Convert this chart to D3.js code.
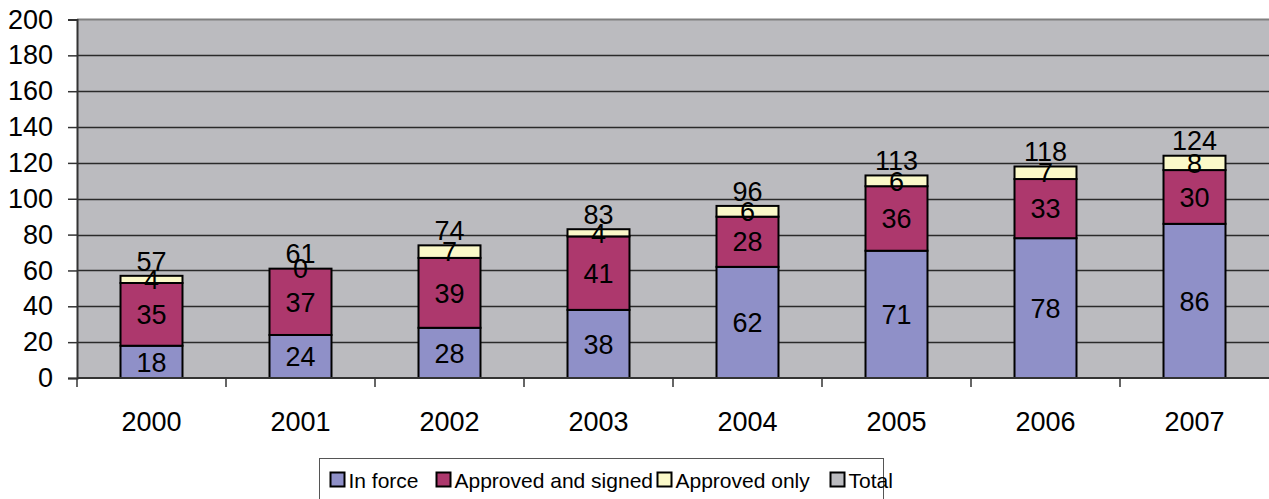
<!DOCTYPE html>
<html lang="en">
<head>
    <meta charset="UTF-8">
    <title>Agreements by year</title>
    <script src="https://cdn.jsdelivr.net/npm/d3@7"></script>
    <style>
        html, body {
            margin: 0;
            padding: 0;
            width: 100%;
            height: 100%;
            overflow: hidden;
            background: #fff;
        }
        text {
            font-family: Arial, 'Liberation Sans', sans-serif;
            fill: #000;
        }
        .grid line {
            stroke: #2a2a2a;
            stroke-width: 1.5px;
        }
        .seg {
            stroke: #000;
            stroke-width: 2px;
        }
    </style>
</head>
<body>
</body>
<script>
    const years = ['2000', '2001', '2002', '2003', '2004', '2005', '2006', '2007'];
    const inForce = [18, 24, 28, 38, 62, 71, 78, 86];
    const approvedSigned = [35, 37, 39, 41, 28, 36, 33, 30];
    const approvedOnly = [4, 0, 7, 4, 6, 6, 7, 8];
    const totals = [57, 61, 74, 83, 96, 113, 118, 124];
    const yTicks = [0, 20, 40, 60, 80, 100, 120, 140, 160, 180, 200];

    const seriesNames = ['In force', 'Approved and signed', 'Approved only', 'Total'];
    const colors = ['#8f90c8', '#ad386d', '#fbf9c9', '#bbbbbf'];

    const width = 1269, height = 499;
    const plotLeft = 77, plotRight = 1269, plotTop = 19.5, plotBottom = 378;
    const fontSize = '27px';

    const svg = d3.select('body').append('svg')
        .attr('width', width)
        .attr('height', height);

    const x = d3.scaleBand()
        .domain(years)
        .range([plotLeft, plotRight])
        .paddingInner(0.584)
        .paddingOuter(0.292);

    const y = d3.scaleLinear()
        .domain([0, 200])
        .range([plotBottom, plotTop]);

    // plot background
    svg.append('rect')
        .attr('x', plotLeft)
        .attr('y', plotTop)
        .attr('width', plotRight - plotLeft)
        .attr('height', plotBottom - plotTop)
        .attr('fill', colors[3]);

    // gridlines
    svg.append('g')
        .classed('grid', true)
        .selectAll('line')
        .data(yTicks.filter(t => t > 0 && t < 200)).enter()
        .append('line')
        .attr('x1', plotLeft)
        .attr('x2', plotRight)
        .attr('y1', d => Math.round(y(d)) + 0.5)
        .attr('y2', d => Math.round(y(d)) + 0.5);

    svg.append('line')
        .attr('x1', plotLeft).attr('x2', plotRight)
        .attr('y1', plotTop).attr('y2', plotTop)
        .attr('stroke', '#808080').attr('stroke-width', 2);

    // stacked bars
    const rows = years.map((yr, i) => ({
        year: yr,
        inForce: inForce[i],
        approvedSigned: approvedSigned[i],
        approvedOnly: approvedOnly[i],
        total: totals[i]
    }));
    const keys = ['inForce', 'approvedSigned', 'approvedOnly'];
    const stack = d3.stack().keys(keys)(rows);

    const layers = svg.append('g')
        .selectAll('g')
        .data(stack).enter()
        .append('g')
        .attr('fill', (d, i) => colors[i]);

    layers.selectAll('rect')
        .data(d => d).enter()
        .append('rect')
        .classed('seg', true)
        .attr('x', d => x(d.data.year))
        .attr('width', x.bandwidth())
        .attr('y', d => y(d[1]))
        .attr('height', d => y(d[0]) - y(d[1]));

    layers.selectAll('text')
        .data(d => d.map(v => ({v: v, key: d.key}))).enter()
        .append('text')
        .attr('x', d => x(d.v.data.year) + x.bandwidth() / 2)
        .attr('y', d => (y(d.v[0]) + y(d.v[1])) / 2)
        .attr('dy', '0.36em')
        .attr('text-anchor', 'middle')
        .style('font-size', fontSize)
        .text(d => d.v.data[d.key]);

    // totals above bars
    svg.append('g')
        .selectAll('text')
        .data(rows).enter()
        .append('text')
        .attr('x', d => x(d.year) + x.bandwidth() / 2)
        .attr('y', d => y(d.total) - 15)
        .attr('dy', '0.36em')
        .attr('text-anchor', 'middle')
        .style('font-size', fontSize)
        .text(d => d.total);

    // y axis
    const yAxis = svg.append('g')
        .attr('transform', `translate(${plotLeft},0)`)
        .call(d3.axisLeft(y).tickValues(yTicks).tickSize(9).tickPadding(15));
    yAxis.select('.domain').attr('stroke', '#333').attr('stroke-width', 2);
    yAxis.selectAll('.tick line').attr('stroke', '#333').attr('stroke-width', 1.5);
    yAxis.attr('font-family', null).attr('font-size', null);
    yAxis.selectAll('text')
        .style('font-size', fontSize);

    // x axis
    const xAxis = svg.append('g')
        .attr('transform', `translate(0,${plotBottom})`);
    xAxis.append('line')
        .attr('x1', plotLeft).attr('x2', plotRight)
        .attr('y1', 0).attr('y2', 0)
        .attr('stroke', '#333').attr('stroke-width', 2);
    xAxis.selectAll('.sep')
        .data(years).enter()
        .append('line')
        .attr('x1', d => x(d) - x.step() * x.paddingOuter())
        .attr('x2', d => x(d) - x.step() * x.paddingOuter())
        .attr('y1', 0).attr('y2', 9)
        .attr('stroke', '#333').attr('stroke-width', 1.5);
    xAxis.selectAll('.lbl')
        .data(years).enter()
        .append('text')
        .attr('x', d => x(d) + x.bandwidth() / 2)
        .attr('y', 53)
        .attr('text-anchor', 'middle')
        .style('font-size', fontSize)
        .text(d => d);

    // legend
    const legend = svg.append('g');
    legend.append('rect')
        .attr('x', 319.5).attr('y', 458.5)
        .attr('width', 564).attr('height', 45)
        .attr('fill', '#fff').attr('stroke', '#555').attr('stroke-width', 1);

    const legendX = [330.5, 436.5, 657.5, 830.5];
    const item = legend.selectAll('.item')
        .data(seriesNames).enter()
        .append('g')
        .attr('transform', (d, i) => `translate(${legendX[i]},472.5)`);
    item.append('rect')
        .attr('width', 14).attr('height', 14)
        .attr('fill', (d, i) => colors[i])
        .attr('stroke', '#000').attr('stroke-width', 2);
    item.append('text')
        .attr('x', 18)
        .attr('y', 15)
        .style('font-size', '21px')
        .text(d => d);
</script>
</html>
